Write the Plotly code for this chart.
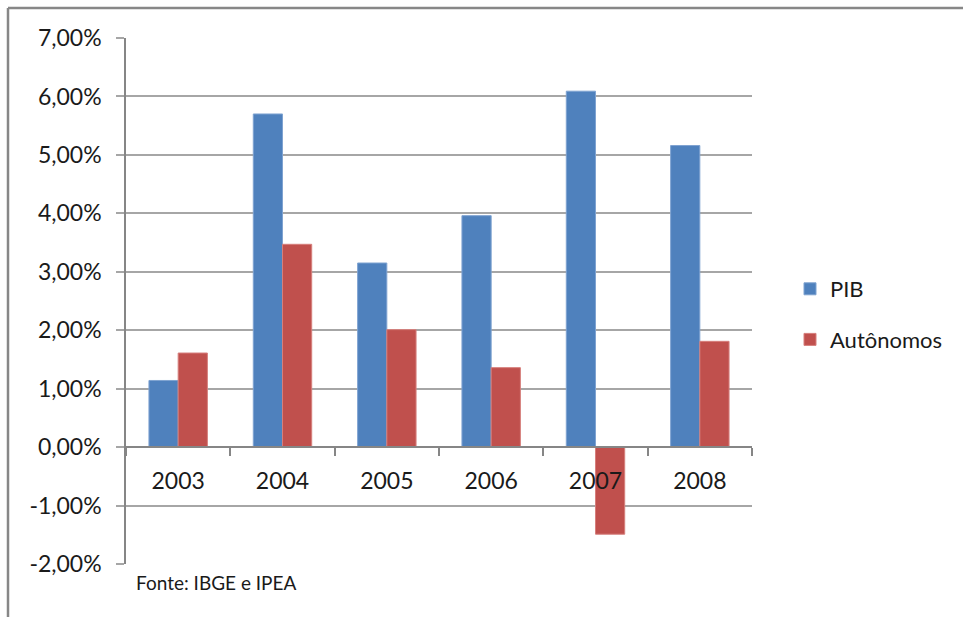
import plotly.graph_objects as go

# Annual growth rates (%)
anos = ["2003", "2004", "2005", "2006", "2007", "2008"]
pib = [1.14, 5.70, 3.15, 3.96, 6.09, 5.16]
autonomos = [1.61, 3.47, 2.01, 1.36, -1.49, 1.81]

y_min, y_max = -2.0, 7.0
y_ticks = [-2, -1, 0, 1, 2, 3, 4, 5, 6, 7]
y_labels = [f"{v:.2f}".replace(".", ",") + "%" for v in y_ticks]

W, H = 963, 617
ml, mr, mt, mb = 126, 211, 38, 53
plot_w = W - ml - mr
plot_h = H - mt - mb

FONT = "Lato, 'Open Sans', sans-serif"
GRID = "#A6A6A6"
AXIS = "#868686"

fig = go.Figure()
fig.add_trace(go.Bar(
    x=anos, y=pib, name="PIB", legendgroup="pib",
    marker=dict(color="#4F81BD", line=dict(color="#7FA3D1", width=1)),
))
fig.add_trace(go.Bar(
    x=anos, y=autonomos, name="Autônomos", legendgroup="aut",
    marker=dict(color="#C0504D", line=dict(color="#D67F7C", width=1)),
))

# x axis sits on the zero line
zero_pos = (0 - y_min) / (y_max - y_min)


def px_x(px):
    return (px - ml) / plot_w


def px_y(py):
    return (H - mb - py) / plot_h


fig.update_layout(
    width=W, height=H,
    margin=dict(l=ml, r=mr, t=mt, b=mb, pad=0, autoexpand=False),
    paper_bgcolor="white", plot_bgcolor="white",
    barmode="group", bargap=0.44, bargroupgap=0,
    font=dict(family=FONT, size=23, color="#1A1A1A"),
    showlegend=True,
    legend=dict(
        xref="container", yref="container",
        x=790 / W, y=1 - 268 / H, xanchor="left", yanchor="top",
        font=dict(size=22, color="#1A1A1A"),
        tracegroupgap=19, itemwidth=30, bgcolor="rgba(0,0,0,0)",
    ),
    xaxis=dict(
        type="category", anchor="free", position=zero_pos,
        showline=True, linecolor=AXIS, linewidth=1.5,
        ticks="outside", ticklen=8, tickcolor=AXIS, tickwidth=1.5,
        tickson="boundaries", showgrid=False,
        tickfont=dict(size=23, color="#1A1A1A"),
        ticklabelstandoff=14,
        range=[-0.5, 5.5], fixedrange=True,
    ),
    yaxis=dict(
        range=[y_min, y_max], tickvals=y_ticks, ticktext=y_labels,
        showgrid=True, gridcolor=GRID, gridwidth=1.5,
        zeroline=False,
        showline=True, linecolor=AXIS, linewidth=1.5,
        ticks="outside", ticklen=8, tickcolor=GRID, tickwidth=1.5,
        tickfont=dict(size=23, color="#1A1A1A"),
        ticklabelstandoff=10, fixedrange=True,
    ),
    annotations=[dict(
        text="Fonte: IBGE e IPEA", xref="paper", yref="paper",
        x=px_x(134), y=px_y(582), xanchor="left", yanchor="middle",
        showarrow=False, font=dict(size=19, color="#1A1A1A"),
    )],
    shapes=[
        # outer chart frame (left and top edges visible)
        dict(type="line", xref="paper", yref="paper",
             x0=px_x(8), x1=px_x(W + 5), y0=px_y(8), y1=px_y(8),
             line=dict(color="#878787", width=2.5)),
        dict(type="line", xref="paper", yref="paper",
             x0=px_x(8), x1=px_x(8), y0=px_y(8), y1=px_y(H + 5),
             line=dict(color="#878787", width=2.5)),
    ],
)

fig.write_html("out.html")
